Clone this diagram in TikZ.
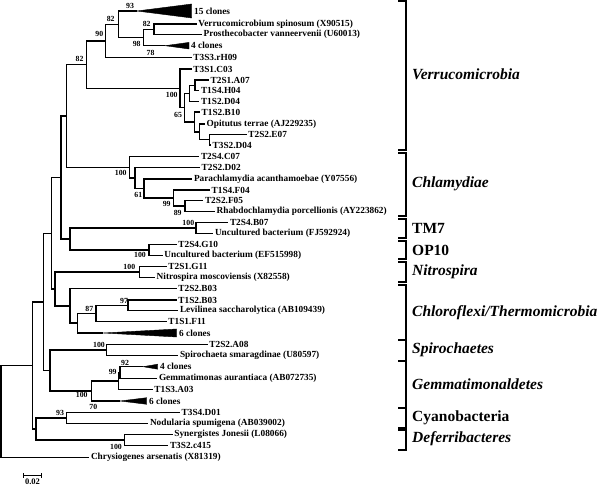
\documentclass[tikz,border=0pt]{standalone}
\usepackage{fontspec}
\setmainfont{Liberation Serif}
\begin{document}
\begin{tikzpicture}[x=1pt,y=-1pt,
  br/.style={line width=1.45pt},
  brk/.style={line width=2pt},
  leaf/.style={anchor=west,inner sep=1.5pt,font=\fontsize{9.3}{10}\selectfont\bfseries},
  bs/.style={inner sep=0pt,font=\fontsize{7.8}{8}\selectfont\bfseries},
  grp/.style={anchor=west,inner sep=0pt,font=\fontsize{15.5}{17}\selectfont\bfseries\itshape},
  grpu/.style={anchor=west,inner sep=0pt,font=\fontsize{15.5}{17}\selectfont\bfseries},
  wedge/.style={fill=black,draw=black,line width=0.4pt}]
\useasboundingbox (0,0) rectangle (600,486);

% ---------- internal nodes ----------
\coordinate (VP)  at (154,29.35);
\coordinate (N98) at (143.3,37.5);
\coordinate (A)   at (118.3,24.25);
\coordinate (B)   at (105.7,40.8);
\coordinate (G1v) at (195,85.35);
\coordinate (Gv)  at (189.3,93.3);
\coordinate (H2)  at (209.3,139.65);
\coordinate (H1)  at (199.3,131.8);
\coordinate (H)   at (194.3,121.9);
\coordinate (F)   at (184.3,107.6);
\coordinate (E)   at (180,88.3);
\coordinate (C)   at (86.7,64.55);
\coordinate (Ch4) at (185,206.2);
\coordinate (Ch3) at (173.3,198.1);
\coordinate (Ch2) at (144,188.55);
\coordinate (Ch1) at (135,178.1);
\coordinate (Ch)  at (129.3,167.4);
\coordinate (D)   at (66.7,116);
\coordinate (TM)  at (196,228.2);
\coordinate (OP)  at (149,250);
\coordinate (T)   at (70,239.1);
\coordinate (X1)  at (61,177.55);
\coordinate (Ni)  at (139.3,272.2);
\coordinate (C3)  at (128,305.35);
\coordinate (C2)  at (96,313.3);
\coordinate (C1)  at (77.3,323.15);
\coordinate (C0)  at (70,305.9);
\coordinate (Y)   at (55,289.05);
\coordinate (X2)  at (51.7,233.3);
\coordinate (S)   at (106.7,350);
\coordinate (G2)  at (120,372.5);
\coordinate (G1)  at (118.3,380.9);
\coordinate (G)   at (91.7,390.95);
\coordinate (Z)   at (50,370.5);
\coordinate (X3)  at (43.3,301.9);
\coordinate (Cy)  at (66.7,418);
\coordinate (Sy)  at (124.3,440);
\coordinate (W)   at (36,429);
\coordinate (X4)  at (32.3,365.45);
\coordinate (R)   at (1,411.4);

% ---------- wedge apexes ----------
\coordinate (t0)  at (136.7,11);
\coordinate (t3)  at (165,45.7);
\coordinate (t29) at (103,333);
\coordinate (t32) at (143,366.7);
\coordinate (t35) at (120,401);

% ---------- leaves ----------
\node[leaf] (l0)  at (192.5,11)    {15 clones};
\node[leaf] (l1)  at (196.7,24)    {Verrucomicrobium spinosum (X90515)};
\node[leaf] (l2)  at (202,34.7)    {Prosthecobacter vanneervenii (U60013)};
\node[leaf] (l3)  at (189.5,45.7)  {4 clones};
\node[leaf] (l4)  at (191.7,57.3)  {T3S3.rH09};
\node[leaf] (l5)  at (191.7,69)    {T3S1.C03};
\node[leaf] (l6)  at (209,80)      {T2S1.A07};
\node[leaf] (l7)  at (199.3,90.7)  {T1S4.H04};
\node[leaf] (l8)  at (199.3,101.3) {T1S2.D04};
\node[leaf] (l9)  at (200,112)     {T1S2.B10};
\node[leaf] (l10) at (205,124)     {Opitutus terrae (AJ229235)};
\node[leaf] (l11) at (246.7,134.3) {T2S2.E07};
\node[leaf] (l12) at (211,145)     {T3S2.D04};
\node[leaf] (l13) at (199.3,156.7) {T2S4.C07};
\node[leaf] (l14) at (200,167.7)   {T2S2.D02};
\node[leaf] (l15) at (192.3,179)   {Parachlamydia acanthamoebae (Y07556)};
\node[leaf] (l16) at (210,190)     {T1S4.F04};
\node[leaf] (l17) at (203.3,200.7) {T2S2.F05};
\node[leaf] (l18) at (215,211.7)   {Rhabdochlamydia porcellionis (AY223862)};
\node[leaf] (l19) at (228.3,222.7) {T2S4.B07};
\node[leaf] (l20) at (213.3,233.7) {Uncultured bacterium (FJ592924)};
\node[leaf] (l21) at (176.7,244.3) {T2S4.G10};
\node[leaf] (l22) at (162.7,255.7) {Uncultured bacterium (EF515998)};
\node[leaf] (l23) at (166.7,266.7) {T2S1.G11};
\node[leaf] (l24) at (155,277.7)   {Nitrospira moscoviensis (X82558)};
\node[leaf] (l25) at (176.7,288.7) {T2S2.B03};
\node[leaf] (l26) at (176.7,300)   {T1S2.B03};
\node[leaf] (l27) at (178.3,310.7) {Levilinea saccharolytica (AB109439)};
\node[leaf] (l28) at (166.7,321.3) {T1S1.F11};
\node[leaf] (l29) at (177.5,333)   {6 clones};
\node[leaf] (l30) at (207.7,344.3) {T2S2.A08};
\node[leaf] (l31) at (178.3,355.7) {Spirochaeta smaragdinae (U80597)};
\node[leaf] (l32) at (158.5,366.7) {4 clones};
\node[leaf] (l33) at (157.3,378.3) {Gemmatimonas aurantiaca (AB072735)};
\node[leaf] (l34) at (152.7,389.3) {T1S3.A03};
\node[leaf] (l35) at (147.5,401)   {6 clones};
\node[leaf] (l36) at (180,412.7)   {T3S4.D01};
\node[leaf] (l37) at (148.3,423.3) {Nodularia spumigena (AB039002)};
\node[leaf] (l38) at (172.7,434.3) {Synergistes Jonesii (L08066)};
\node[leaf] (l39) at (168.3,445.7) {T3S2.c415};
\node[leaf] (l40) at (89.3,457.3)  {Chrysiogenes arsenatis (X81319)};

% ---------- wedges (collapsed clades) ----------
\fill[wedge] (t0) -- (191.7,4) -- (191.7,18) -- cycle;
\fill[wedge] (t3) -- (189,42.4) -- (189,49) -- cycle;
\fill[wedge] (t29) -- (176.7,329) -- (176.7,337) -- cycle;
\fill[wedge] (t32) -- (157.7,364.2) -- (157.7,369.2) -- cycle;
\fill[wedge] (t35) -- (146.7,397.7) -- (146.7,404.3) -- cycle;

% ---------- branches ----------
\draw[br] (VP) |- (l1.west);
\draw[br] (VP) |- (l2.west);
\draw[br] (N98) |- (VP);
\draw[br] (N98) |- (t3);
\draw[br] (A) |- (t0);
\draw[br] (A) |- (N98);
\draw[br] (B) |- (A);
\draw[br] (B) |- (l4.west);
\draw[br] (G1v) |- (l6.west);
\draw[br] (G1v) |- (l7.west);
\draw[br] (Gv) |- (G1v);
\draw[br] (Gv) |- (l8.west);
\draw[br] (H2) |- (l11.west);
\draw[br] (H2) |- (l12.west);
\draw[br] (H1) |- (l10.west);
\draw[br] (H1) |- (H2);
\draw[br] (H) |- (l9.west);
\draw[br] (H) |- (H1);
\draw[br] (F) |- (Gv);
\draw[br] (F) |- (H);
\draw[br] (E) |- (l5.west);
\draw[br] (E) |- (F);
\draw[br] (C) |- (B);
\draw[br] (C) |- (E);
\draw[br] (Ch4) |- (l17.west);
\draw[br] (Ch4) |- (l18.west);
\draw[br] (Ch3) |- (l16.west);
\draw[br] (Ch3) |- (Ch4);
\draw[br] (Ch2) |- (l15.west);
\draw[br] (Ch2) |- (Ch3);
\draw[br] (Ch1) |- (l14.west);
\draw[br] (Ch1) |- (Ch2);
\draw[br] (Ch) |- (l13.west);
\draw[br] (Ch) |- (Ch1);
\draw[br] (D) |- (C);
\draw[br] (D) |- (Ch);
\draw[br] (TM) |- (l19.west);
\draw[br] (TM) |- (l20.west);
\draw[br] (OP) |- (l21.west);
\draw[br] (OP) |- (l22.west);
\draw[br] (T) |- (TM);
\draw[br] (T) |- (OP);
\draw[br] (X1) |- (D);
\draw[br] (X1) |- (T);
\draw[br] (Ni) |- (l23.west);
\draw[br] (Ni) |- (l24.west);
\draw[br] (C3) |- (l26.west);
\draw[br] (C3) |- (l27.west);
\draw[br] (C2) |- (C3);
\draw[br] (C2) |- (l28.west);
\draw[br] (C1) |- (C2);
\draw[br] (C1) |- (t29);
\draw[br] (C0) |- (l25.west);
\draw[br] (C0) |- (C1);
\draw[br] (Y) |- (Ni);
\draw[br] (Y) |- (C0);
\draw[br] (X2) |- (X1);
\draw[br] (X2) |- (Y);
\draw[br] (S) |- (l30.west);
\draw[br] (S) |- (l31.west);
\draw[br] (G2) |- (t32);
\draw[br] (G2) |- (l33.west);
\draw[br] (G1) |- (G2);
\draw[br] (G1) |- (l34.west);
\draw[br] (G) |- (G1);
\draw[br] (G) |- (t35);
\draw[br] (Z) |- (S);
\draw[br] (Z) |- (G);
\draw[br] (X3) |- (X2);
\draw[br] (X3) |- (Z);
\draw[br] (Cy) |- (l36.west);
\draw[br] (Cy) |- (l37.west);
\draw[br] (Sy) |- (l38.west);
\draw[br] (Sy) |- (l39.west);
\draw[br] (W) |- (Cy);
\draw[br] (W) |- (Sy);
\draw[br] (X4) |- (X3);
\draw[br] (X4) |- (W);
\draw[br] (R) |- (X4);
\draw[br] (R) |- (l40.west);

% ---------- bootstrap values ----------
\node[bs] (b1)  at (130,6)       {93};
\node[bs] (b2)  at (110.7,19)    {82};
\node[bs] (b3)  at (99.3,34.3)   {90};
\node[bs] (b4)  at (146.7,24)    {82};
\node[bs] (b5)  at (136.7,43.8)  {98};
\node[bs] (b6)  at (150.5,53)    {78};
\node[bs] (b7)  at (79.5,59.3)   {82};
\node[bs] (b8)  at (171.7,95)    {100};
\node[bs] (b9)  at (178,114.7)   {65};
\node[bs] (b10) at (120.7,173.3) {100};
\node[bs] (b11) at (138.3,195)   {61};
\node[bs] (b12) at (166.7,204.3) {99};
\node[bs] (b13) at (177.7,212.7) {89};
\node[bs] (b14) at (188.3,222.7) {100};
\node[bs] (b15) at (140,255)     {100};
\node[bs] (b16) at (129.3,267.3) {100};
\node[bs] (b17) at (124,300.7)   {97};
\node[bs] (b18) at (89.3,309)    {87};
\node[bs] (b19) at (99,345)      {100};
\node[bs] (b20) at (125,362.7)   {92};
\node[bs] (b21) at (112.7,371.7) {99};
\node[bs] (b22) at (81.7,395)    {100};
\node[bs] (b23) at (60,412.8)    {93};
\node[bs] (b24) at (93.3,407.3)  {70};
\node[bs] (b25) at (116,447.3)   {100};

% ---------- scale bar ----------
\coordinate (sb1) at (23.3,475);
\coordinate (sb2) at (41.7,475);
\draw[line width=1pt] (sb1) -- (sb2);
\draw[line width=1pt] ([yshift=-2.5pt]sb1) -- ([yshift=2.5pt]sb1);
\draw[line width=1pt] ([yshift=-2.5pt]sb2) -- ([yshift=2.5pt]sb2);
\node[bs,font=\fontsize{8.5}{9}\selectfont\bfseries] (sbl) at (32.5,482) {0.02};

% ---------- group brackets ----------
\draw[brk] (398,1.5) -| (406,150.5) -- (398,150.5);
\draw[brk] (398,153) -| (406,216.5) -- (398,216.5);
\draw[brk] (398,219) -| (406,238.5) -- (398,238.5);
\draw[brk] (398,241) -| (406,259.5) -- (398,259.5);
\draw[brk] (398,262) -| (406,282.5) -- (398,282.5);
\draw[brk] (398,285) -| (406,427.5) -- (398,427.5);
\draw[brk] (398,340) -- (406,340);
\draw[brk] (398,360.7) -- (406,360.7);
\draw[brk] (398,408.3) -- (406,408.3);
\draw[brk] (398,430) -| (406,450) -- (398,450);

\node[grp]  (g1) at (412,74)    {Verrucomicrobia};
\node[grp]  (g2) at (412,183.3) {Chlamydiae};
\node[grpu] (g3) at (412,228.3) {TM7};
\node[grpu] (g4) at (412,250)   {OP10};
\node[grp]  (g5) at (412,271.7) {Nitrospira};
\node[grp]  (g6) at (412,313)   {Chloroflexi/Thermomicrobia};
\node[grp]  (g7) at (412,349.3) {Spirochaetes};
\node[grp]  (g8) at (412,384)   {Gemmatimonaldetes};
\node[grpu] (g9) at (412,417.3) {Cyanobacteria};
\node[grp]  (g10) at (412,438.3) {Deferribacteres};
\end{tikzpicture}
\end{document}
